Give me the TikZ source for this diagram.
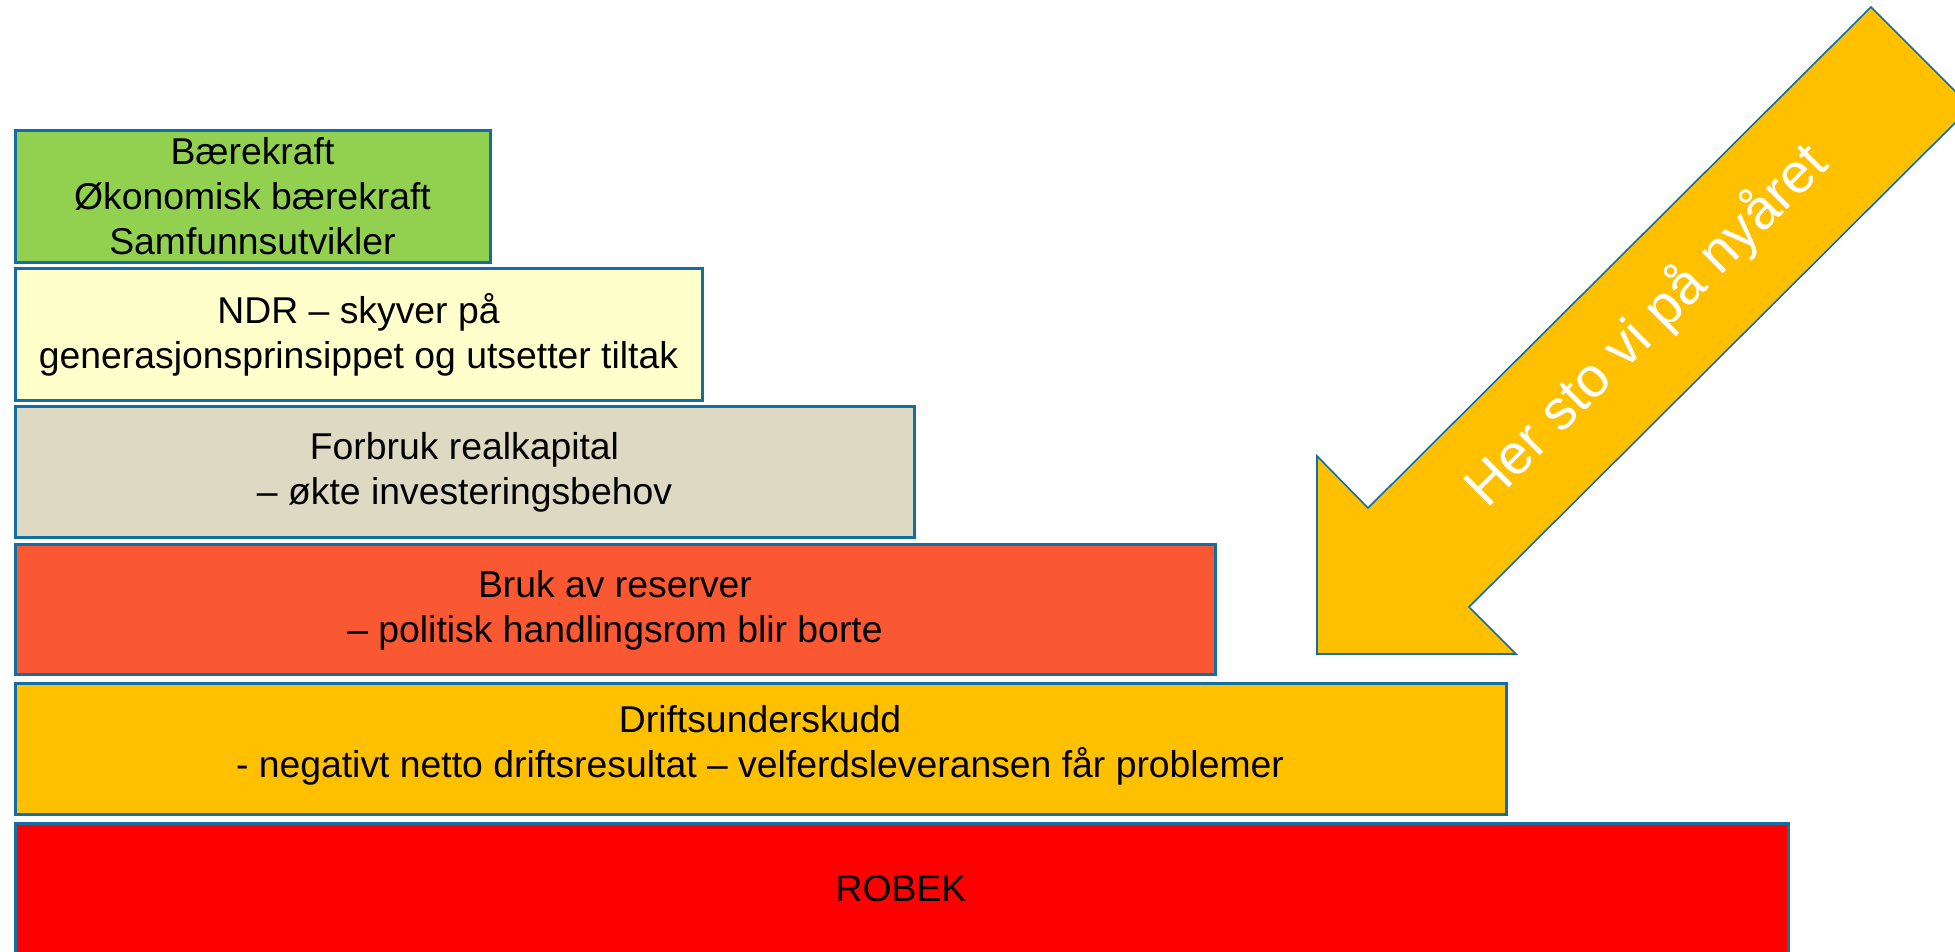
\documentclass[tikz,border=0pt]{standalone}
\usepackage{fontspec}
\setmainfont{Liberation Sans}
\usepackage{xcolor}
\definecolor{kant}{RGB}{19,111,163}
\definecolor{groenn}{RGB}{146,208,80}
\definecolor{blekgul}{RGB}{255,255,204}
\definecolor{beige}{RGB}{221,217,195}
\definecolor{oransje}{RGB}{249,88,50}
\definecolor{gull}{RGB}{255,192,0}
\definecolor{roed}{RGB}{255,0,0}

\begin{document}
\begin{tikzpicture}[x=0.75pt,y=0.75pt,yscale=-1,xscale=1,
  trinn/.style={draw=kant, line width=2.25pt},
  tekst/.style={inner sep=0.75pt, align=center, font=\fontsize{28}{33.75}\selectfont}]

\useasboundingbox (0,0) rectangle (1955,951);
\clip (0,0) rectangle (1955,951);

\draw [trinn, fill=groenn]   (15,130) -- (490,130) -- (490,262) -- (15,262) -- cycle ;
\draw [trinn, fill=blekgul]  (15,268) -- (702,268) -- (702,400) -- (15,400) -- cycle ;
\draw [trinn, fill=beige]    (15,406) -- (914,406) -- (914,537) -- (15,537) -- cycle ;
\draw [trinn, fill=oransje]  (15,544) -- (1215,544) -- (1215,674) -- (15,674) -- cycle ;
\draw [trinn, fill=gull]     (15,683) -- (1506,683) -- (1506,814) -- (15,814) -- cycle ;
\draw [trinn, fill=roed]     (15,823) -- (1788,823) -- (1788,956) -- (15,956) -- cycle ;
% pil
\draw [draw=kant, line width=1.2pt, fill=gull]  (1317,456) -- (1368,508) -- (1871,7) -- (1971,107) -- (1469,607) -- (1516,654) -- (1317,654) -- cycle ;

\draw (252.5,196) node (baerekraft) [tekst] {Bærekraft\\Økonomisk bærekraft\\Samfunnsutvikler};
\draw (358.5,335) node (ndr) [tekst] {NDR – skyver på\\generasjonsprinsippet og utsetter tiltak};
\draw (464.5,472) node (forbruk) [tekst] {Forbruk realkapital\\– økte investeringsbehov};
\draw (615,610) node (reserver) [tekst] {Bruk av reserver\\– politisk handlingsrom blir borte};
\draw (760,745) node (drift) [tekst] {Driftsunderskudd\\- negativt netto driftsresultat – velferdsleveransen får problemer};
\draw (901,889) node (robek) [tekst] {ROBEK};
\draw (1647,326) node (nyaaret) [inner sep=0.75pt, rotate=45, text=white, font=\fontsize{42}{50}\selectfont] {Her sto vi på nyåret};

\end{tikzpicture}
\end{document}
